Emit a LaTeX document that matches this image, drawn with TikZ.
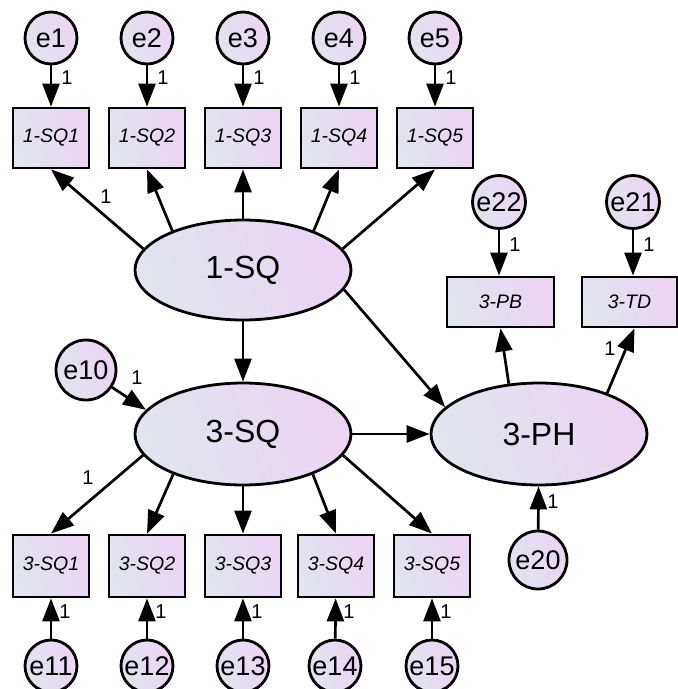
\documentclass[tikz,border=0pt]{standalone}
\usepackage{fontspec}
\setmainfont{Liberation Sans}
\usetikzlibrary{arrows.meta,calc,shapes.geometric}
\definecolor{cA}{RGB}{224,229,238}
\definecolor{cB}{RGB}{236,212,243}
\tikzset{
  myshade/.style={left color=cA, right color=cB, shading angle=110},
  latent/.style={ellipse, draw=black, line width=2.8pt, myshade, minimum width=216pt, minimum height=102pt, inner sep=0pt, font=\fontsize{32}{32}\selectfont},
  obs/.style={rectangle, draw=black, line width=2.8pt, myshade, minimum width=76pt, minimum height=60pt, inner sep=0pt, font=\fontsize{19.5}{19.5}\selectfont\itshape},
  err/.style={circle, draw=black, line width=2.8pt, myshade, minimum size=52pt, inner sep=0pt, font=\fontsize{27}{27}\selectfont},
  conn/.style={line width=2.7pt, -{Triangle[length=23pt,width=17pt]}},
  lab/.style={inner sep=0pt, font=\fontsize{20}{20}\selectfont}
}
\begin{document}
\begin{tikzpicture}[x=1pt,y=-1pt]
\useasboundingbox (0,0) rectangle (678,689);
% top indicators
\foreach \i/\x in {1/51,2/147,3/243,4/339,5/435}{
  \node[err] (e\i) at (\x,38) {e\i};
  \node[obs] (b\i) at (\x,138) {1-SQ\i};
  \draw[conn] (e\i) -- (b\i);
  \node[lab] (lt\i) at (\x+16,78) {1};
}
% bottom indicators
\foreach \i/\x/\ex/\en in {1/51/51/11,2/147/147/12,3/243/243/13,4/336/335/14,5/432/432/15}{
  \node[obs, minimum height=62pt] (s\i) at (\x,566) {3-SQ\i};
  \node[err] (e\en) at (\ex,666) {e\en};
  \draw[conn] (e\en) -- (s\i);
  \node[lab] (lb\i) at (\ex+14,612) {1};
}
% latent variables
\node[latent, minimum height=100pt] (sq1) at (243,270) {1-SQ};
\node[latent] (sq3) at (243,434) {3-SQ};
\node[latent] (ph) at (539,434) {3-PH};
% 3-PH indicators
\node[obs, minimum width=107pt, minimum height=50pt] (pb) at (500.5,302) {3-PB};
\node[obs, minimum width=95pt, minimum height=50pt] (td) at (629.5,302) {3-TD};
\node[err, minimum size=53pt] (e22) at (499,202) {e22};
\node[err, minimum size=53pt] (e21) at (633,202) {e21};
\node[err, minimum size=60pt] (e10) at (86,370) {e10};
\node[err, minimum size=58pt] (e20) at (538,560) {e20};
% 1-SQ loadings
\draw[conn] (sq1.168) -- (b1.south);
\draw[conn] (sq1.151) -- (b2.south);
\draw[conn] (sq1.north) -- (b3.south);
\draw[conn] (sq1.29) -- (b4.south);
\draw[conn] (sq1.12.5) -- (b5.south);
\node[lab] (l1sq) at (106,197) {1};
% 3-SQ loadings
\draw[conn] (sq3.192) -- (s1.north);
\draw[conn] (sq3.210) -- (s2.north);
\draw[conn] (sq3.south) -- (s3.north);
\draw[conn] (sq3.330) -- (s4.north);
\draw[conn] (sq3.348) -- (s5.north);
\node[lab] (l3sq) at (88,478) {1};
% structural paths
\draw[conn] (sq1.south) -- (sq3.north);
\draw[conn] (sq1.-11.6) -- (ph.164);
\draw[conn] (sq3.east) -- (ph.west);
\draw[conn] (e10) -- (sq3.166);
\node[lab] (l10) at (137,378) {1};
% 3-PH indicators
\draw[conn] (ph.121) -- (pb.south);
\draw[conn] (ph.31) -- ($(td.south)+(5,0)$);
\node[lab] (ltd) at (610,349) {1};
\draw[conn] (e22) -- (e22 |- pb.north);
\node[lab] (l22) at (515,245) {1};
\draw[conn] (e21) -- (e21 |- td.north);
\node[lab] (l21) at (649,245) {1};
\draw[conn] (e20) -- (ph);
\node[lab] (l20) at (553,502) {1};
\end{tikzpicture}
\end{document}
